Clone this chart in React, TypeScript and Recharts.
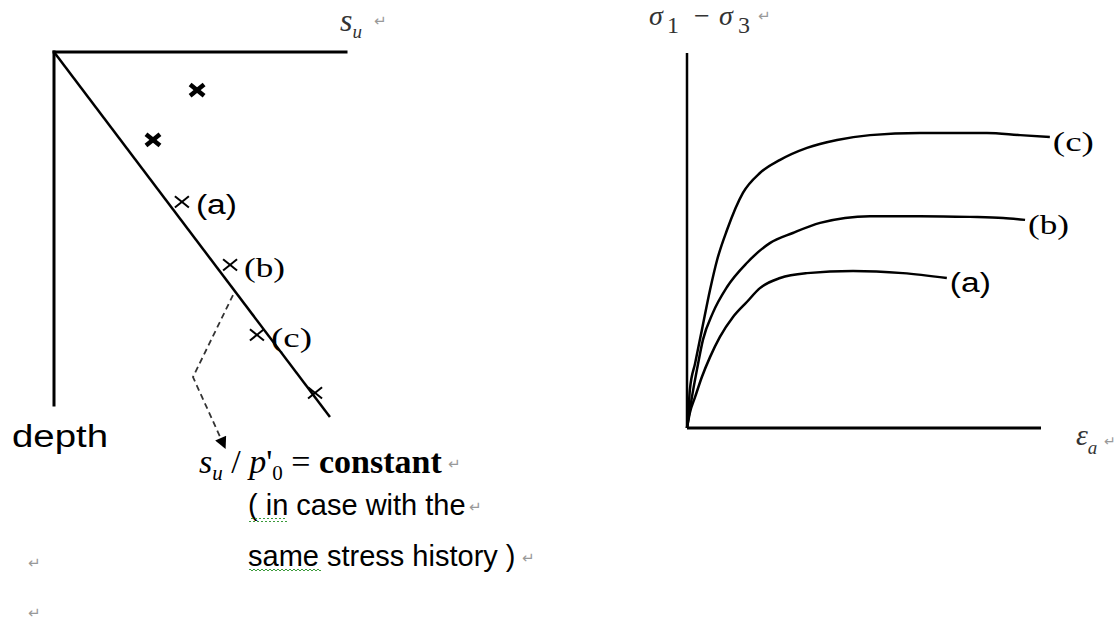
import React from 'react';
import { ComposedChart, LineChart, Line, Scatter, XAxis, YAxis, ReferenceLine } from 'recharts';

// ---- left panel: undrained strength s_u against depth ----
const suTrend = [
  { su: 0, depth: 0 },
  { su: 9.45, depth: 12.46 },
];
// points lying off the trend line
const suScatter = [
  { su: 4.9, depth: 1.3 },
  { su: 3.39, depth: 3.0 },
];
// tested samples on the trend line
const suTested = [
  { su: 4.38, depth: 5.12, tag: '(a)' },
  { su: 6.03, depth: 7.27, tag: '(b)' },
  { su: 6.95, depth: 9.66, tag: '(c)' },
  { su: 8.94, depth: 11.64, tag: '' },
];
const calloutPath = [
  { su: 6.13, depth: 8.3 },
  { su: 4.76, depth: 11.1 },
  { su: 5.86, depth: 13.52 },
];
const suAxisEnd = 10;
const depthAxisEnd = 12.05;

// ---- right panel: deviator stress against axial strain ----
const curveA = [
  { strain: 0, dev: 0 },
  { strain: 0.08, dev: 0.4 },
  { strain: 0.23, dev: 0.83 },
  { strain: 0.42, dev: 1.36 },
  { strain: 0.65, dev: 1.89 },
  { strain: 0.93, dev: 2.43 },
  { strain: 1.3, dev: 2.96 },
  { strain: 1.69, dev: 3.36 },
  { strain: 2.06, dev: 3.73 },
  { strain: 2.63, dev: 4.0 },
  { strain: 3.39, dev: 4.13 },
  { strain: 4.69, dev: 4.19 },
  { strain: 6.1, dev: 4.13 },
  { strain: 7.34, dev: 4.0 },
];
const curveB = [
  { strain: 0, dev: 0 },
  { strain: 0.14, dev: 0.83 },
  { strain: 0.28, dev: 1.55 },
  { strain: 0.45, dev: 2.35 },
  { strain: 0.73, dev: 3.07 },
  { strain: 1.13, dev: 3.76 },
  { strain: 1.69, dev: 4.4 },
  { strain: 2.34, dev: 4.93 },
  { strain: 2.99, dev: 5.2 },
  { strain: 3.76, dev: 5.47 },
  { strain: 5.17, dev: 5.65 },
  { strain: 6.58, dev: 5.65 },
  { strain: 7.99, dev: 5.63 },
  { strain: 8.93, dev: 5.6 },
  { strain: 9.55, dev: 5.55 },
];
const curveC = [
  { strain: 0, dev: 0 },
  { strain: 0.03, dev: 0.29 },
  { strain: 0.08, dev: 1.01 },
  { strain: 0.23, dev: 1.73 },
  { strain: 0.42, dev: 2.61 },
  { strain: 0.65, dev: 3.68 },
  { strain: 0.85, dev: 4.48 },
  { strain: 1.13, dev: 5.28 },
  { strain: 1.58, dev: 6.27 },
  { strain: 2.06, dev: 6.8 },
  { strain: 2.63, dev: 7.15 },
  { strain: 3.39, dev: 7.47 },
  { strain: 4.24, dev: 7.68 },
  { strain: 5.17, dev: 7.81 },
  { strain: 6.58, dev: 7.87 },
  { strain: 8.47, dev: 7.87 },
  { strain: 9.41, dev: 7.81 },
  { strain: 10.25, dev: 7.76 },
];
const curveTags = ['(a)', '(b)', '(c)'];
const strainAxisEnd = 10;
const devAxisEnd = 10;

const serif = '"Liberation Serif", "Times New Roman", serif';
const sans = '"Liberation Sans", Arial, sans-serif';
const marks = '"DejaVu Sans", sans-serif';

const tagFont = (tag: string) => (tag === '(a)' ? sans : serif);

function TagText({ x, y, tag }: { x: number; y: number; tag: string }) {
  return (
    <text
      x={x}
      y={y}
      fontFamily={tagFont(tag)}
      fontSize={27}
      textLength={41}
      lengthAdjust="spacingAndGlyphs"
      dominantBaseline="central"
      fill="#000"
    >
      {tag}
    </text>
  );
}

const crossShape = (half: number, weight: number) => (props: any) => {
  const { cx, cy, payload } = props;
  return (
    <g>
      <line x1={cx - half} y1={cy - half * 0.8} x2={cx + half} y2={cy + half * 0.8} stroke="#000" strokeWidth={weight} />
      <line x1={cx - half} y1={cy + half * 0.8} x2={cx + half} y2={cy - half * 0.8} stroke="#000" strokeWidth={weight} />
      {payload && payload.tag ? <TagText x={cx + 14} y={cy + 3} tag={payload.tag} /> : null}
    </g>
  );
};

// label drawn after the last point of a curve
const endTag = (tag: string, count: number) => (props: any) => {
  const { cx, cy, index } = props;
  if (index !== count - 1) return <g key={`${tag}-${index}`} />;
  return (
    <g key={`${tag}-${index}`}>
      <TagText x={cx + 3} y={cy + 5} tag={tag} />
    </g>
  );
};

function DepthPanel() {
  return (
    <div style={{ position: 'absolute', left: 0, top: 0 }}>
      <ComposedChart width={560} height={622} margin={{ top: 52, left: 54, right: 214, bottom: 160 }}>
        <XAxis type="number" dataKey="su" domain={[0, 10]} hide />
        <YAxis type="number" dataKey="depth" domain={[0, 14]} reversed hide />
        <ReferenceLine
          segment={[{ x: 0, y: 0 }, { x: suAxisEnd, y: 0 }]}
          stroke="#000"
          strokeWidth={3}
          strokeLinecap="square"
          ifOverflow="visible"
        />
        <ReferenceLine
          segment={[{ x: 0, y: 0 }, { x: 0, y: depthAxisEnd }]}
          stroke="#000"
          strokeWidth={3}
          strokeLinecap="square"
          ifOverflow="visible"
        />
        <Line data={suTrend} dataKey="depth" stroke="#000" strokeWidth={2.5} dot={false} activeDot={false} isAnimationActive={false} />
        <Line
          data={calloutPath}
          dataKey="depth"
          type="linear"
          stroke="#333"
          strokeWidth={1.8}
          strokeDasharray="6 4"
          markerEnd="url(#calloutHead)"
          dot={false}
          activeDot={false}
          isAnimationActive={false}
        />
        <Scatter data={suScatter} shape={crossShape(7, 4.5)} isAnimationActive={false} />
        <Scatter data={suTested} shape={crossShape(7, 2)} isAnimationActive={false} />
      </ComposedChart>
    </div>
  );
}

function StrainPanel() {
  const curves = [curveA, curveB, curveC];
  return (
    <div style={{ position: 'absolute', left: 560, top: 0 }}>
      <LineChart width={558} height={622} margin={{ top: 53, left: 127, right: 6.2, bottom: 194 }}>
        <XAxis type="number" dataKey="strain" domain={[0, 12]} hide />
        <YAxis type="number" domain={[0, 10]} hide />
        <ReferenceLine
          segment={[{ x: 0, y: 0 }, { x: strainAxisEnd, y: 0 }]}
          stroke="#000"
          strokeWidth={3}
          ifOverflow="visible"
        />
        <ReferenceLine
          segment={[{ x: 0, y: 0 }, { x: 0, y: devAxisEnd }]}
          stroke="#000"
          strokeWidth={2.5}
          ifOverflow="visible"
        />
        {curves.map((curve, i) => (
          <Line
            key={curveTags[i]}
            data={curve}
            dataKey="dev"
            type="monotone"
            stroke="#000"
            strokeWidth={2.5}
            dot={endTag(curveTags[i], curve.length)}
            activeDot={false}
            isAnimationActive={false}
          />
        ))}
      </LineChart>
    </div>
  );
}

function Annotations() {
  return (
    <svg width={1118} height={622} style={{ position: 'absolute', left: 0, top: 0, pointerEvents: 'none' }}>
      <defs>
        <marker id="calloutHead" viewBox="0 0 10 10" refX="9" refY="5" markerWidth="14" markerHeight="12" markerUnits="userSpaceOnUse" orient="auto">
          <path d="M0,0 L10,5 L0,10 z" fill="#000" />
        </marker>
        <pattern id="spellWave" width="4" height="4" patternUnits="userSpaceOnUse">
          <path d="M0,3 L2,1 L4,3" stroke="#3a9a3a" strokeWidth="1" fill="none" />
        </pattern>
      </defs>

      {/* s_u axis title */}
      <text x={340} y={31} fontFamily={serif} fontStyle="italic" fontSize={32} fill="#333">
        s<tspan fontSize={19} dy={7}>u</tspan>
      </text>
      <text x={374} y={26} fontFamily={marks} fontSize={15} fill="#999">↵</text>

      {/* deviator stress title */}
      <text y={25} fontFamily={serif} fontSize={28} fill="#333">
        <tspan x={649} fontStyle="italic">σ</tspan>
        <tspan x={667} dy={8} fontSize={24}>1</tspan>
        <tspan x={694} dy={-8}>−</tspan>
        <tspan x={719} fontStyle="italic">σ</tspan>
        <tspan x={738} dy={8} fontSize={24}>3</tspan>
      </text>
      <text x={758} y={21} fontFamily={marks} fontSize={15} fill="#999">↵</text>

      {/* axial strain title */}
      <text x={1076} y={445} fontFamily={serif} fontStyle="italic" fontSize={30} fill="#333">
        ε<tspan fontSize={19} dy={9}>a</tspan>
      </text>
      <text x={1104} y={446} fontFamily={marks} fontSize={14} fill="#999">↵</text>

      <text x={12} y={447} fontFamily={sans} fontSize={31} textLength={96} lengthAdjust="spacingAndGlyphs" fill="#000">depth</text>

      <text x={199} y={473} fontFamily={serif} fontSize={34} fill="#000">
        <tspan fontStyle="italic">s</tspan>
        <tspan fontStyle="italic" fontSize={21} dy={7}>u</tspan>
        <tspan dy={-7}> / </tspan>
        <tspan fontStyle="italic">p</tspan>
        <tspan>'</tspan>
        <tspan fontSize={21} dy={7}>0</tspan>
        <tspan dy={-7}> = </tspan>
        <tspan fontWeight="bold">constant</tspan>
      </text>
      <text x={448} y={469} fontFamily={marks} fontSize={15} fill="#999">↵</text>

      <text x={248} y={515} fontFamily={sans} fontSize={29} fill="#000">( in case with the</text>
      <text x={469} y={512} fontFamily={marks} fontSize={15} fill="#999">↵</text>
      <rect x={249} y={518} width={38} height={4} fill="url(#spellWave)" />

      <text x={248} y={566} fontFamily={sans} fontSize={29} fill="#000">same stress history )</text>
      <text x={522} y={563} fontFamily={marks} fontSize={15} fill="#999">↵</text>
      <rect x={249} y={569} width={72} height={4} fill="url(#spellWave)" />

      <text x={28} y={568} fontFamily={marks} fontSize={15} fill="#999">↵</text>
      <text x={28} y={618} fontFamily={marks} fontSize={15} fill="#999">↵</text>
    </svg>
  );
}

export default function App() {
  return (
    <div style={{ position: 'absolute', left: 0, top: 0, width: 1118, height: 622, background: '#fff', overflow: 'hidden' }}>
      <DepthPanel />
      <StrainPanel />
      <Annotations />
    </div>
  );
}
